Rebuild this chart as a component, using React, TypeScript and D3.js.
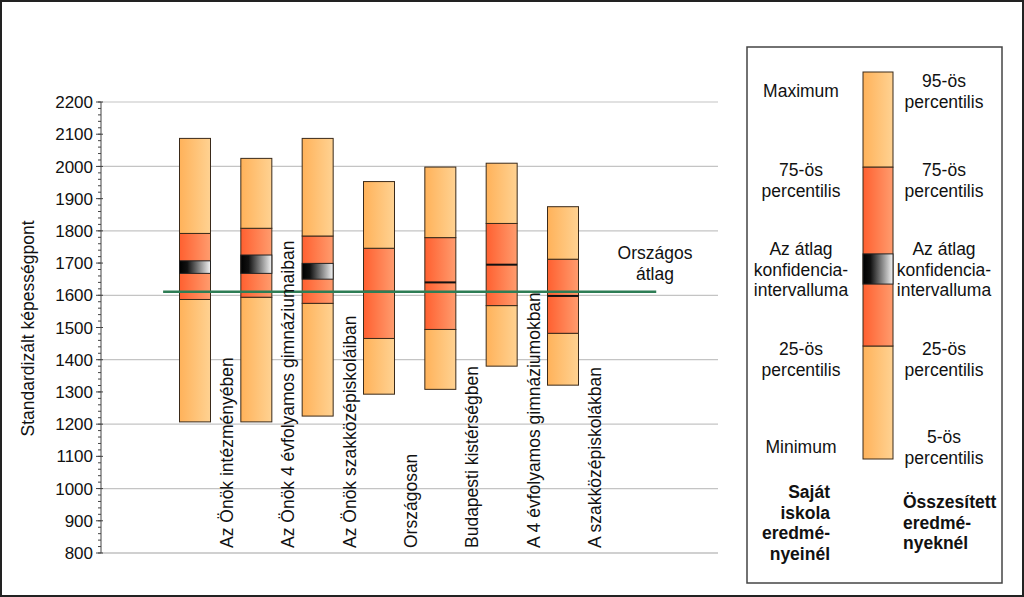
import React from "react";
import * as d3 from "d3";

const categories = [
  "Az Önök intézményében",
  "Az Önök 4 évfolyamos gimnáziumaiban",
  "Az Önök szakközépiskoláiban",
  "Országosan",
  "Budapesti kistérségben",
  "A 4 évfolyamos gimnáziumokban",
  "A szakközépiskolákban",
];
const lowVals = [1207, 1207, 1225, 1293, 1308, 1380, 1321];
const p25Vals = [1587, 1594, 1575, 1466, 1494, 1568, 1482];
const p75Vals = [1792, 1808, 1784, 1746, 1779, 1823, 1712];
const highVals = [2087, 2025, 2087, 1953, 1998, 2010, 1875];
const ciLowVals: (number | null)[] = [1668, 1668, 1650, null, null, null, null];
const ciHighVals: (number | null)[] = [1707, 1725, 1699, null, null, null, null];
const meanVals: (number | null)[] = [null, null, null, 1611, 1640, 1695, 1598];
const nationalAvg = 1611;
const yTicks = d3.range(800, 2201, 100);
const gridTicks = d3.range(1000, 2201, 200);
const minorTicks = d3.range(800, 2201, 20);

const legendLeft = [
  { lines: ["Maximum"], y: 97 },
  { lines: ["75-ös", "percentilis"], y: 176 },
  { lines: ["Az átlag", "konfidencia-", "intervalluma"], y: 255 },
  { lines: ["25-ös", "percentilis"], y: 355 },
  { lines: ["Minimum"], y: 453 },
];
const legendRight = [
  { lines: ["95-ös", "percentilis"], y: 87 },
  { lines: ["75-ös", "percentilis"], y: 176 },
  { lines: ["Az átlag", "konfidencia-", "intervalluma"], y: 255 },
  { lines: ["25-ös", "percentilis"], y: 355 },
  { lines: ["5-ös", "percentilis"], y: 443 },
];
const legendBoldLeft = ["Saját", "iskola", "eredmé-", "nyeinél"];
const legendBoldRight = ["Összesített", "eredmé-", "nyeknél"];

const FONT = "'Liberation Sans', Arial, sans-serif";

export default function App() {
  const W = 1024;
  const H = 597;
  const plotLeft = 101;
  const plotRight = 718;
  const y = d3.scaleLinear().domain([800, 2200]).range([553, 102]);
  const x = d3.scalePoint<string>().domain(categories).range([195, 563]);
  const step = x.step();
  const bw = 31;

  // legend scale (relative positions inside legend bar)
  const ly = d3.scaleLinear().domain([0, 100]).range([459, 72]);
  const legendStops = { low: 0, p25: 29.2, ciLow: 45.2, ciHigh: 53, p75: 75.4, high: 100 };
  const lastX = x(categories[categories.length - 1])!;

  return (
    <svg width={W} height={H} style={{ position: "absolute", left: 0, top: 0, fontFamily: FONT }}>
      <defs>
        <linearGradient id="light" x1="0" x2="1" y1="0" y2="0">
          <stop offset="0" stopColor="#ffb25a" />
          <stop offset="1" stopColor="#ffd292" />
        </linearGradient>
        <linearGradient id="red" x1="0" x2="1" y1="0" y2="0">
          <stop offset="0" stopColor="#ff6030" />
          <stop offset="1" stopColor="#ff9c6e" />
        </linearGradient>
        <linearGradient id="ci" x1="0" x2="1" y1="0" y2="0">
          <stop offset="0" stopColor="#000" />
          <stop offset="0.25" stopColor="#111" />
          <stop offset="1" stopColor="#f4f4f4" />
        </linearGradient>
      </defs>
      <rect x={1} y={1} width={W - 2} height={H - 2} fill="#fff" stroke="#222" strokeWidth={2} />

      {/* gridlines */}
      {gridTicks.map((t) => (
        <line key={t} x1={plotLeft} x2={plotRight} y1={y(t)} y2={y(t)} stroke="#c4c4c4" strokeWidth={1.2} />
      ))}
      <line x1={plotLeft} x2={plotRight} y1={y(800)} y2={y(800)} stroke="#d0d0d0" strokeWidth={2} />

      {/* y axis */}
      <line x1={plotLeft} x2={plotLeft} y1={y(2200)} y2={y(800)} stroke="#444" strokeWidth={1} />
      {minorTicks.map((t) => (
        <line key={"m" + t} x1={plotLeft - 3} x2={plotLeft} y1={y(t)} y2={y(t)} stroke="#444" strokeWidth={1} />
      ))}
      {yTicks.map((t) => (
        <g key={"t" + t}>
          <line x1={plotLeft - 5} x2={plotLeft + 2} y1={y(t)} y2={y(t)} stroke="#444" strokeWidth={1} />
          <text x={plotLeft - 8} y={y(t)} dy="0.36em" textAnchor="end" fontSize={17} fill="#111">
            {t}
          </text>
        </g>
      ))}
      <text
        transform={`translate(28,${(y(2200) + y(800)) / 2 + 1}) rotate(-90)`}
        textAnchor="middle"
        dy="0.36em"
        fontSize={17.5}
        fill="#111"
      >
        Standardizált képességpont
      </text>

      {/* bars */}
      {categories.map((c, i) => {
        const cx = x(c)!;
        const x0 = cx - bw / 2;
        const segs = [
          { a: lowVals[i], b: p25Vals[i], fill: "url(#light)" },
          { a: p25Vals[i], b: p75Vals[i], fill: "url(#red)" },
          { a: p75Vals[i], b: highVals[i], fill: "url(#light)" },
        ];
        return (
          <g key={c}>
            {segs.map((s, k) => (
              <rect key={k} x={x0} width={bw} y={y(s.b)} height={y(s.a) - y(s.b)} fill={s.fill} stroke="#3a2a1a" strokeWidth={1} />
            ))}
            {ciLowVals[i] != null && ciHighVals[i] != null && (
              <rect
                x={x0}
                width={bw}
                y={y(ciHighVals[i]!)}
                height={y(ciLowVals[i]!) - y(ciHighVals[i]!)}
                fill="url(#ci)"
                stroke="#222"
                strokeWidth={1}
              />
            )}
            {meanVals[i] != null && (
              <line x1={x0} x2={x0 + bw} y1={y(meanVals[i]!)} y2={y(meanVals[i]!)} stroke="#111" strokeWidth={2} />
            )}
          </g>
        );
      })}

      {/* national average line */}
      <line
        x1={x(categories[0])! - step * 0.52}
        x2={lastX + step * 1.52}
        y1={y(nationalAvg)}
        y2={y(nationalAvg)}
        stroke="#2e7d55"
        strokeWidth={2.5}
      />
      <text textAnchor="middle" fontSize={17.5} fill="#111">
        <tspan x={lastX + step * 1.5} y={259}>Országos</tspan>
        <tspan x={lastX + step * 1.5} y={280}>
          átlag
        </tspan>
      </text>

      {/* category labels */}
      {categories.map((c) => (
        <text key={"l" + c} transform={`translate(${x(c)! + 38},548) rotate(-90)`} textAnchor="start" fontSize={17.5} fill="#111">
          {c}
        </text>
      ))}

      {/* legend */}
      <rect x={747} y={47} width={255} height={536} fill="#fff" stroke="#444" strokeWidth={1.5} />
      <rect x={863} width={30} y={ly(legendStops.high)} height={ly(legendStops.p75) - ly(legendStops.high)} fill="url(#light)" stroke="#3a2a1a" />
      <rect x={863} width={30} y={ly(legendStops.p25)} height={ly(legendStops.low) - ly(legendStops.p25)} fill="url(#light)" stroke="#3a2a1a" />
      <rect x={863} width={30} y={ly(legendStops.p75)} height={ly(legendStops.p25) - ly(legendStops.p75)} fill="url(#red)" stroke="#3a2a1a" />
      <rect
        x={863}
        width={30}
        y={ly(legendStops.ciHigh)}
        height={ly(legendStops.ciLow) - ly(legendStops.ciHigh)}
        fill="url(#ci)"
        stroke="#222"
      />
      {legendLeft.map((g, gi) => (
        <text key={"ll" + gi} textAnchor="middle" fontSize={17.5} fill="#111">
          {g.lines.map((ln, k) => (
            <tspan key={k} x={801} y={g.y + k * 20.5}>
              {ln}
            </tspan>
          ))}
        </text>
      ))}
      {legendRight.map((g, gi) => (
        <text key={"lr" + gi} textAnchor="middle" fontSize={17.5} fill="#111">
          {g.lines.map((ln, k) => (
            <tspan key={k} x={944} y={g.y + k * 20.5}>
              {ln}
            </tspan>
          ))}
        </text>
      ))}
      <text textAnchor="end" fontSize={17.5} fontWeight="bold" fill="#111">
        {legendBoldLeft.map((ln, k) => (
          <tspan key={k} x={830} y={498 + k * 20.7}>
            {ln}
          </tspan>
        ))}
      </text>
      <text textAnchor="start" fontSize={17.5} fontWeight="bold" fill="#111">
        {legendBoldRight.map((ln, k) => (
          <tspan key={k} x={903} y={508 + k * 20.7}>
            {ln}
          </tspan>
        ))}
      </text>
    </svg>
  );
}
